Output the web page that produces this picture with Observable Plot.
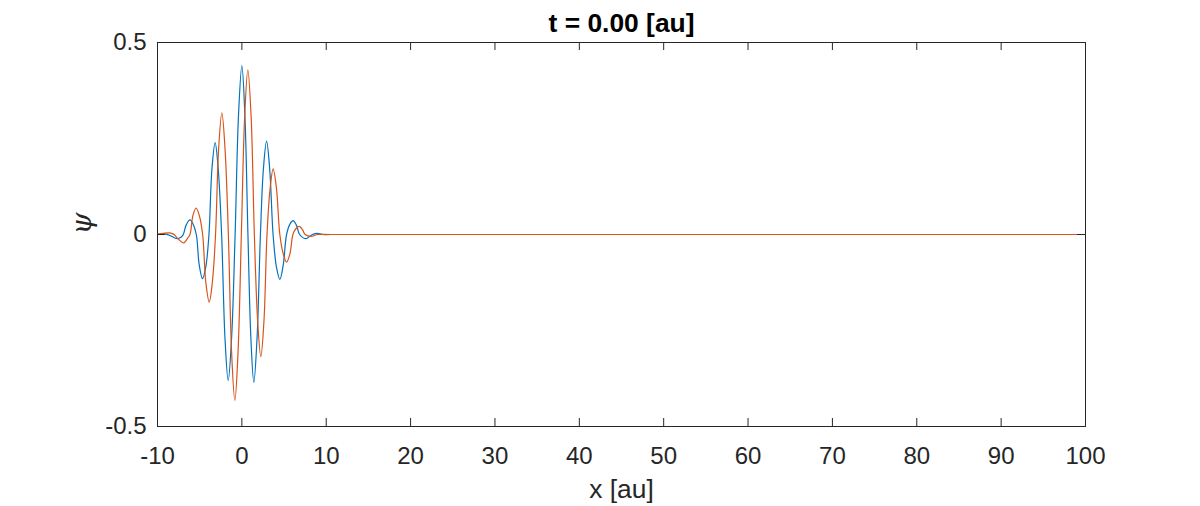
<!DOCTYPE html>
<html>
<head>
<meta charset="utf-8">
<script src="https://cdn.jsdelivr.net/npm/d3@7"></script>
<script src="https://cdn.jsdelivr.net/npm/@observablehq/plot@0.6"></script>
<style>
  html, body { margin: 0; padding: 0; background: #fff; }
  #chart svg { display: block; }
</style>
</head>
<body>
<div id="chart"></div>
<script>
const realX = [-10, -9.0, -8.3, -7.6, -7.0, -6.6, -6.16, -5.8, -5.4, -5.05, -4.66, -4.28, -3.9, -3.55, -3.17, -2.8, -2.4, -2.0, -1.62, -1.22, -0.8, -0.4, 0, 0.36, 0.72, 1.07, 1.42, 1.8, 2.2, 2.55, 2.93, 3.3, 3.7, 4.1, 4.5, 4.9, 5.3, 5.7, 6.08, 6.45, 6.85, 7.6, 8.2, 8.85, 9.6, 10.5, 100];
const realY = [0, 0.001, -0.005, -0.011, -0.002, 0.025, 0.038, 0.028, 0, -0.08, -0.115, -0.085, 0, 0.17, 0.239, 0.17, 0, -0.27, -0.38, -0.27, 0, 0.31, 0.44, 0.31, 0, -0.27, -0.385, -0.27, 0, 0.17, 0.243, 0.17, 0, -0.085, -0.117, -0.08, 0, 0.027, 0.036, 0.025, 0, -0.011, -0.002, 0.003, 0, 0, 0];

// Imaginary part (orange) of the wave packet
const imagX = [-10, -9.3, -8.6, -8.1, -7.7, -6.9, -6.5, -6.15, -5.8, -5.42, -5.05, -4.65, -4.27, -3.87, -3.5, -3.12, -2.75, -2.37, -2.0, -1.6, -1.22, -0.83, -0.45, -0.06, 0.33, 0.71, 1.1, 1.48, 1.87, 2.25, 2.62, 2.98, 3.35, 3.71, 4.1, 4.5, 4.9, 5.3, 5.7, 6.05, 6.4, 6.8, 7.2, 7.5, 8.2, 9.0, 10.5, 100];
const imagY = [0.001, 0.003, 0.004, 0.001, -0.008, -0.022, -0.012, 0, 0.05, 0.069, 0.05, 0, -0.125, -0.176, -0.125, 0, 0.225, 0.317, 0.225, 0, -0.305, -0.432, -0.305, 0, 0.305, 0.429, 0.305, 0, -0.225, -0.318, -0.225, 0, 0.12, 0.171, 0.12, 0, -0.05, -0.072, -0.05, 0, 0.015, 0.021, 0.012, 0, -0.005, 0, 0, 0];

const xTicks = [-10, 0, 10, 20, 30, 40, 50, 60, 70, 80, 90, 100];
const yTicks = [-0.5, 0, 0.5];
const titleText = "t = 0.00 [au]";
const xLabel = "x [au]";
const yLabel = "ψ";

const realData = realX.map((x, i) => ({x, y: realY[i]}));
const imagData = imagX.map((x, i) => ({x, y: imagY[i]}));

const W = 1200, H = 506;
const mL = 157, mR = 115, mT = 42, mB = 80;
const plotW = W - mL - mR, plotH = H - mT - mB;
const tick = 8;
const axisColor = "#262626";
const font = "'Liberation Sans', Arial, Helvetica, sans-serif";

const chart = Plot.plot({
  width: W,
  height: H,
  marginLeft: mL,
  marginRight: mR,
  marginTop: mT,
  marginBottom: mB,
  style: {fontFamily: font, background: "#fff", color: axisColor},
  x: {domain: [-10, 100]},
  y: {domain: [-0.5, 0.5]},
  marks: [
    Plot.line(realData, {x: "x", y: "y", stroke: "#0072BD", strokeWidth: 1.2, curve: "catmull-rom"}),
    Plot.line(imagData, {x: "x", y: "y", stroke: "#D95319", strokeWidth: 1.2, curve: "catmull-rom"}),
    // inward ticks, bottom and top
    Plot.tickX(xTicks, {x: d => d, stroke: axisColor, insetTop: plotH - tick}),
    Plot.tickX(xTicks, {x: d => d, stroke: axisColor, insetBottom: plotH - tick}),
    // inward ticks, left and right
    Plot.tickY(yTicks, {y: d => d, stroke: axisColor, insetRight: plotW - tick}),
    Plot.tickY(yTicks, {y: d => d, stroke: axisColor, insetLeft: plotW - tick}),
    Plot.frame({stroke: axisColor, strokeWidth: 1}),
    Plot.axisX({ticks: xTicks, tickSize: 0, tickPadding: 20, fontSize: 24, tickFormat: d => String(d), label: null, fill: axisColor}),
    Plot.axisY({ticks: yTicks, tickSize: 0, tickPadding: 11, fontSize: 24, tickFormat: d => String(d), label: null, fill: axisColor}),
    Plot.text([titleText], {text: d => d, frameAnchor: "top", dy: -11, lineAnchor: "bottom", fontSize: 26.4, fontWeight: "bold", fill: "#000"}),
    Plot.text([xLabel], {text: d => d, frameAnchor: "bottom", dy: 71, lineAnchor: "bottom", fontSize: 26.4, fill: axisColor}),
    Plot.text([yLabel], {text: d => d, frameAnchor: "left", dx: -75, rotate: -90, fontSize: 28, fontStyle: "italic", fontFamily: "'DejaVu Serif', 'Liberation Serif', serif", fill: axisColor})
  ]
});

document.getElementById("chart").appendChild(chart);
</script>
</body>
</html>
